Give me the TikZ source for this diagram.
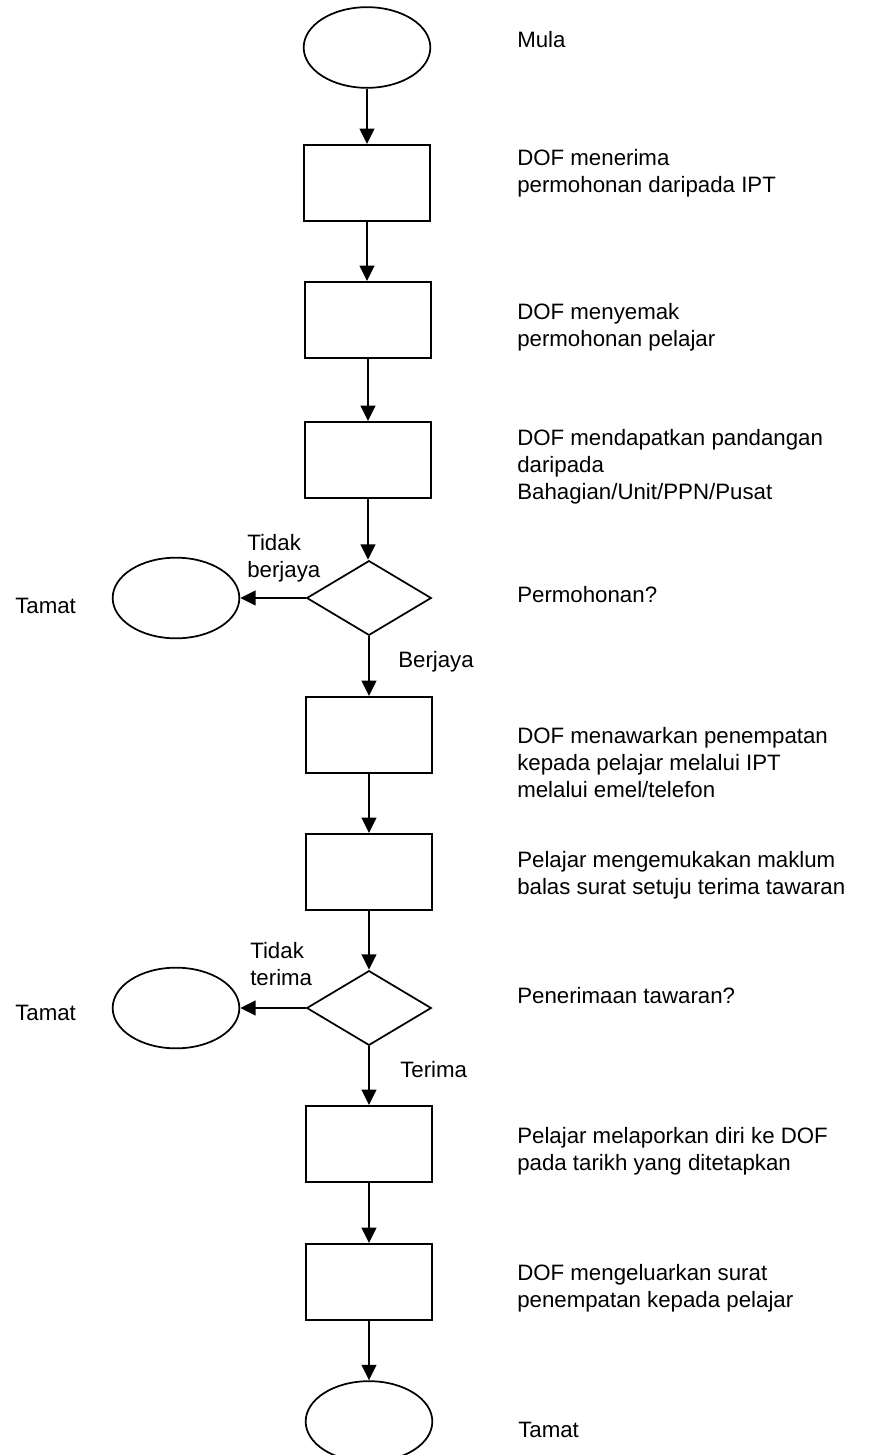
\documentclass[tikz,border=0pt]{standalone}
\usepackage{fontspec}
\setmainfont{Liberation Sans}
\usetikzlibrary{shapes.geometric,arrows.meta}
\newcommand\mylines[1]{\begin{tabular}[t]{@{}l@{}}#1\end{tabular}}
\tikzset{
  every node/.style={font=\fontsize{16.7}{20.25}\selectfont},
  procbox/.style={draw, line width=1.5pt, rectangle, minimum width=95pt, minimum height=57pt, inner sep=0pt},
  termin/.style={draw, line width=1.3pt, ellipse, minimum width=95pt, minimum height=60.5pt, inner sep=0pt},
  decis/.style={draw, line width=1.3pt, diamond, minimum width=93.5pt, minimum height=56pt, inner sep=0pt},
  arr/.style={line width=1.5pt, -{Triangle[length=11.5pt,width=11pt]}},
  txt/.style={anchor=base west, inner sep=0pt}
}
\begin{document}
\begin{tikzpicture}[x=0.75pt,y=-0.75pt]
\useasboundingbox (0,0) rectangle (874,1455);
\clip (0,0) rectangle (874,1455);
% main column
\node[termin] (start) at (367,47.5) {};
\node[procbox] (b1) at (367,183) {};
\node[procbox] (b2) at (368,320) {};
\node[procbox] (b3) at (368,460) {};
\node[decis] (d1) at (369,598) {};
\node[procbox] (b4) at (369,735) {};
\node[procbox] (b5) at (369,872) {};
\node[decis] (d2) at (369,1008) {};
\node[procbox] (b6) at (369,1144) {};
\node[procbox] (b7) at (369,1282) {};
\node[termin] (end) at (369,1421.5) {};
% side terminators
\node[termin] (e1) at (176,598) {};
\node[termin] (e2) at (176,1008) {};
% connectors
\draw[arr] (start) -- (b1);
\draw[arr] (b1.south) -- (b1.south |- b2.north);
\draw[arr] (b2) -- (b3);
\draw[arr] (b3.south) -- (b3.south |- d1.north);
\draw[arr] (d1) -- (b4);
\draw[arr] (b4) -- (b5);
\draw[arr] (b5) -- (d2);
\draw[arr] (d2) -- (b6);
\draw[arr] (b6) -- (b7);
\draw[arr] (b7) -- (end);
\draw[arr] (d1.west) -- (e1.east);
\draw[arr] (d2.west) -- (e2.east);
% right column texts
\node[txt] (t0) at (517,48) {Mula};
\node[txt] (t1) at (517,166) {\mylines{DOF menerima\\permohonan daripada IPT}};
\node[txt] (t2) at (517,319) {\mylines{DOF menyemak\\permohonan pelajar}};
\node[txt] (t3) at (517,445) {\mylines{DOF mendapatkan pandangan\\daripada\\Bahagian/Unit/PPN/Pusat}};
\node[txt] (t4) at (517,602) {Permohonan?};
\node[txt] (t5) at (517,743) {\mylines{DOF menawarkan penempatan\\kepada pelajar melalui IPT\\melalui emel/telefon}};
\node[txt] (t6) at (517,867) {\mylines{Pelajar mengemukakan maklum\\balas surat setuju terima tawaran}};
\node[txt] (t7) at (517,1003) {Penerimaan tawaran?};
\node[txt] (t8) at (517,1143) {\mylines{Pelajar melaporkan diri ke DOF\\pada tarikh yang ditetapkan}};
\node[txt] (t9) at (517,1280) {\mylines{DOF mengeluarkan surat\\penempatan kepada pelajar}};
\node[txt] (t10) at (518,1437) {Tamat};
% left texts and labels
\node[txt] (l1) at (15,613) {Tamat};
\node[txt] (l2) at (15,1020) {Tamat};
\node[txt] (n1) at (247,550) {\mylines{Tidak\\berjaya}};
\node[txt] (y1) at (398,667) {Berjaya};
\node[txt] (n2) at (250,958) {\mylines{Tidak\\terima}};
\node[txt] (y2) at (400,1077) {Terima};
\end{tikzpicture}
\end{document}
